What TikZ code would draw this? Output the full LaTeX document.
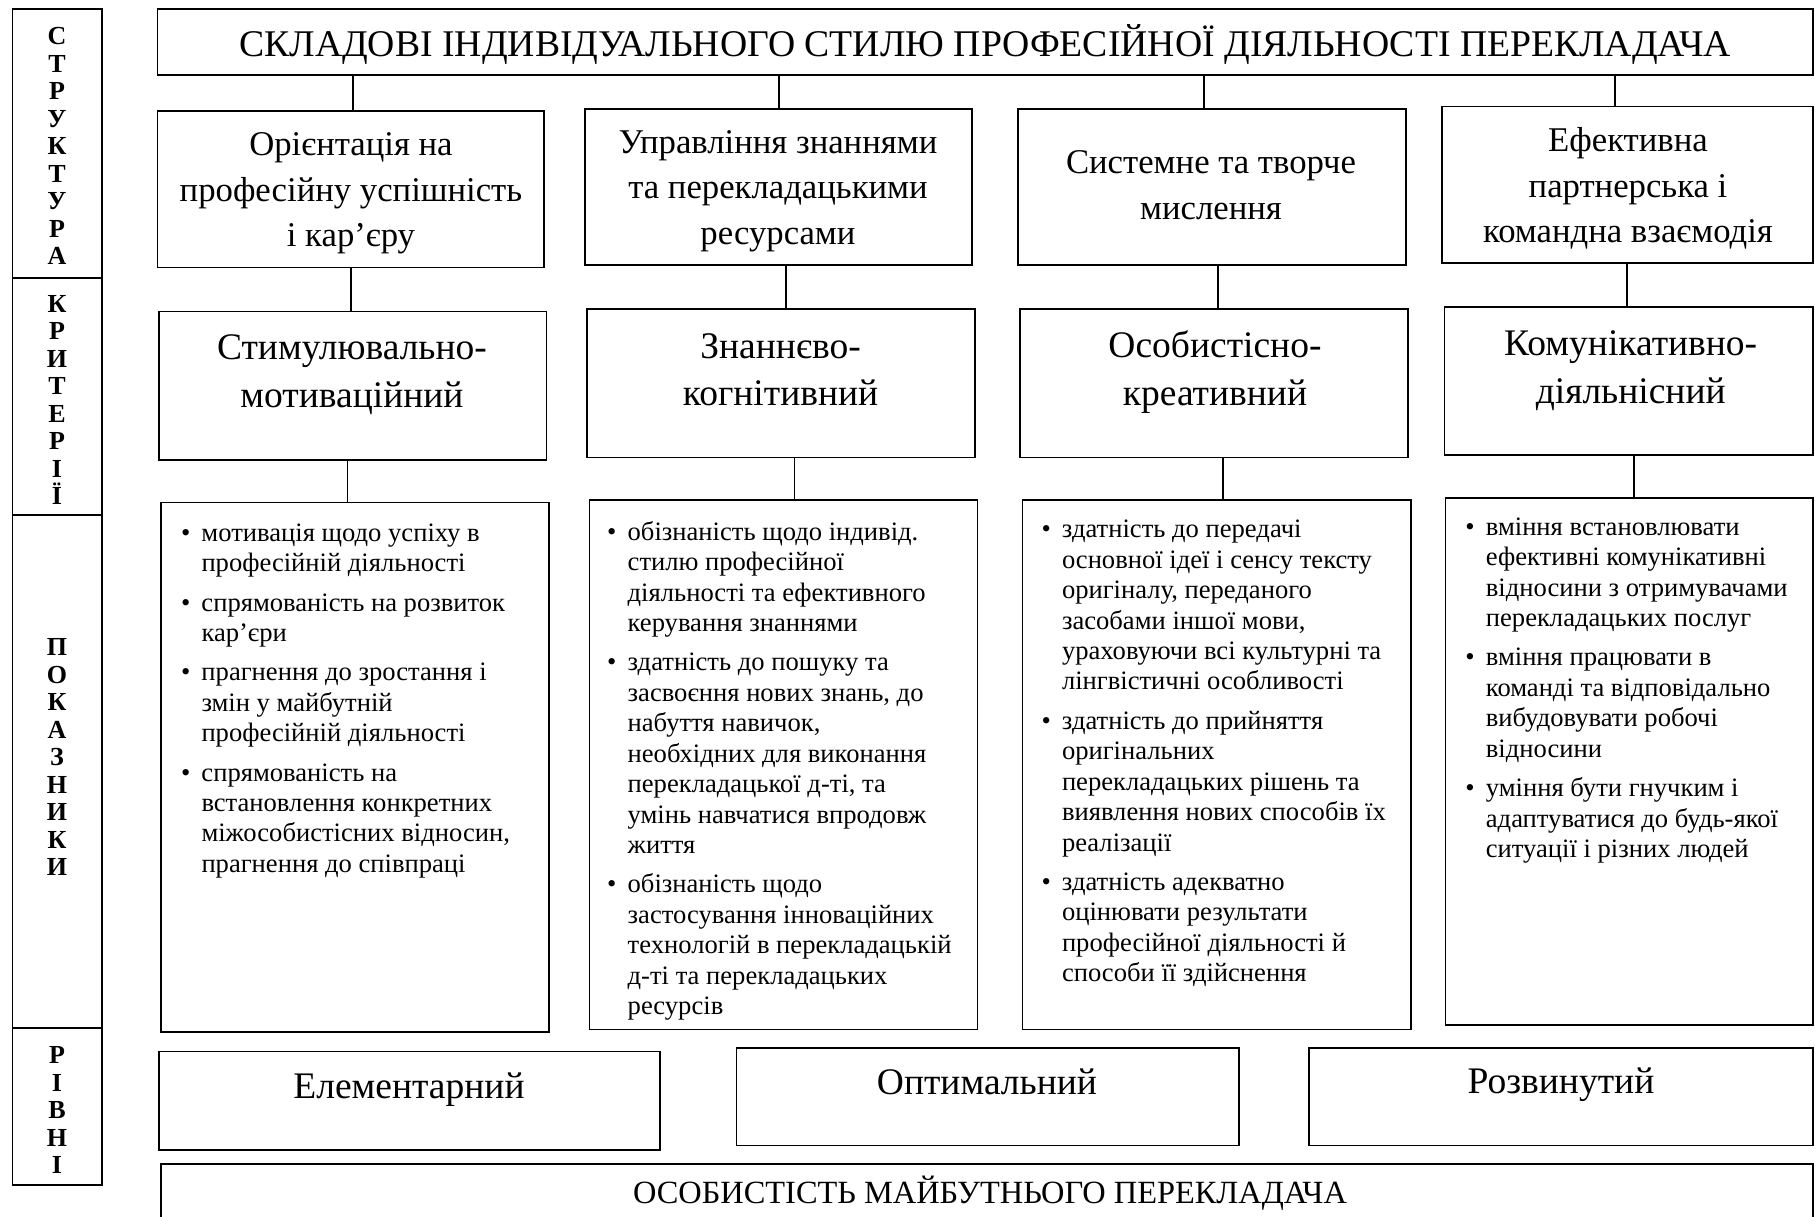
\documentclass[tikz,border=0pt]{standalone}
\usepackage{fontspec}
\setmainfont{Liberation Serif}
\usetikzlibrary{fit,calc}
\newcommand\bi{\makebox[20.5pt][l]{•}}
\newcommand\ci{\hspace*{20.5pt}}
\newcommand\fs{\rule{0pt}{20pt}}
\begin{document}
\begin{tikzpicture}[x=1pt,y=-1pt,
  box/.style={draw, line width=1.7pt, inner sep=0pt, outer sep=0pt},
  conn/.style={line width=1.2pt},
  ttl/.style={font=\fontsize{37.7}{40}\selectfont, inner sep=0pt},
  tbot/.style={font=\fontsize{32.4}{36}\selectfont, inner sep=0pt},
  t2/.style={align=center, font=\fontsize{34.7}{45.5}\selectfont, inner sep=0pt},
  t3/.style={align=center, font=\fontsize{37.5}{47.5}\selectfont, inner sep=0pt},
  bul/.style={align=left, anchor=north west, font=\fontsize{26.6}{30.45}\selectfont, inner sep=0pt},
  side/.style={align=center, font=\fontsize{26}{27.5}\selectfont\bfseries, inner sep=0pt},
]
\useasboundingbox (0,0) rectangle (1816,1217);
\clip (0,0) rectangle (1816,1217);
\fill[white] (0,0) rectangle (1816,1217);

% side column
\node[box, fit={(12.5,9.3) (102,278)}] (s1) {};
\node[box, fit={(12.5,278) (102,515)}] (s2) {};
\node[box, fit={(12.5,515) (102,1028)}] (s3) {};
\node[box, fit={(12.5,1028) (102,1185)}] (s4) {};
\node[side] (s1t) at (57,146) {С\\Т\\Р\\У\\К\\Т\\У\\Р\\А};
\node[side] (s2t) at (57,400) {К\\Р\\И\\Т\\Е\\Р\\І\\Ї};
\node[side] (s3t) at (57,757) {П\\О\\К\\А\\З\\Н\\И\\К\\И};
\node[side] (s4t) at (57,1110) {Р\\І\\В\\Н\\І};

% title
\node[box, fit={(157.5,9.3) (1813,75.3)}] (title) {};
\node[ttl] (titlet) at ($(title.center)+(0,2.5)$) {СКЛАДОВІ ІНДИВІДУАЛЬНОГО СТИЛЮ ПРОФЕСІЙНОЇ ДІЯЛЬНОСТІ ПЕРЕКЛАДАЧА};

% row 2
\node[box, fit={(157.5,111.2) (544.3,267.5)}] (b1) {};
\node[box, fit={(584.9,108.9) (971.7,265.2)}] (b2) {};
\node[box, fit={(1018,108.9) (1406,265.2)}] (b3) {};
\node[box, fit={(1442,106.5) (1813,262.9)}] (b4) {};
\node[t2] (b1t) at (351,193.5) {Орієнтація на\\професійну успішність\\і кар’єру};
\node[t2] (b2t) at (778,191) {Управління знаннями\\та перекладацькими\\ресурсами};
\node[t2] (b3t) at (1211,185) {Системне та творче\\мислення};
\node[t2] (b4t) at (1628,188.8) {Ефективна\\партнерська і\\командна взаємодія};

% row 3
\node[box, fit={(158.7,311.5) (546.6,459.8)}] (c1) {};
\node[box, fit={(587.2,309.2) (975.2,457.5)}] (c2) {};
\node[box, fit={(1020.3,309.2) (1408.3,457.5)}] (c3) {};
\node[box, fit={(1444.4,306.9) (1813,455.2)}] (c4) {};
\node[t3] (c1t) at (352,374.5) {Стимулювально-\\мотиваційний};
\node[t3] (c2t) at (780.6,370) {Знаннєво-\\когнітивний};
\node[t3] (c3t) at (1215,372) {Особистісно-\\креативний};
\node[t3] (c4t) at (1630.7,370.5) {Комунікативно-\\діяльнісний};

% row 4
\node[box, fit={(161,502.6) (549,1032)}] (d1) {};
\node[box, fit={(589.5,500.3) (977.5,1029.6)}] (d2) {};
\node[box, fit={(1022.6,500.3) (1410.7,1029.6)}] (d3) {};
\node[box, fit={(1445.5,498) (1813,1025)}] (d4) {};

\node[bul] (d1t) at (180.8,521) {\fs\bi мотивація щодо успіху в\\
\ci професійній діяльності\\[8.9pt]
\bi спрямованість на розвиток\\
\ci кар’єри\\[8.9pt]
\bi прагнення до зростання і\\
\ci змін у майбутній\\
\ci професійній діяльності\\[8.9pt]
\bi спрямованість на\\
\ci встановлення конкретних\\
\ci міжособистісних відносин,\\
\ci прагнення до співпраці};

\node[bul] (d2t) at (607,520) {\fs\bi обізнаність щодо індивід.\\
\ci стилю професійної\\
\ci діяльності та ефективного\\
\ci керування знаннями\\[8.9pt]
\bi здатність до пошуку та\\
\ci засвоєння нових знань, до\\
\ci набуття навичок,\\
\ci необхідних для виконання\\
\ci перекладацької д-ті, та\\
\ci умінь навчатися впродовж\\
\ci життя\\[8.9pt]
\bi обізнаність щодо\\
\ci застосування інноваційних\\
\ci технологій в перекладацькій\\
\ci д-ті та перекладацьких\\
\ci ресурсів};

\node[bul] (d3t) at (1041.3,517.5) {\fs\bi здатність до передачі\\
\ci основної ідеї і сенсу тексту\\
\ci оригіналу, переданого\\
\ci засобами іншої мови,\\
\ci ураховуючи всі культурні та\\
\ci лінгвістичні особливості\\[8.9pt]
\bi здатність до прийняття\\
\ci оригінальних\\
\ci перекладацьких рішень та\\
\ci виявлення нових способів їх\\
\ci реалізації\\[8.9pt]
\bi здатність адекватно\\
\ci оцінювати результати\\
\ci професійної діяльності й\\
\ci способи її здійснення};

\node[bul] (d4t) at (1465.2,515) {\fs\bi вміння встановлювати\\
\ci ефективні комунікативні\\
\ci відносини з отримувачами\\
\ci перекладацьких послуг\\[8.9pt]
\bi вміння працювати в\\
\ci команді та відповідально\\
\ci вибудовувати робочі\\
\ci відносини\\[8.9pt]
\bi уміння бути гнучким і\\
\ci адаптуватися до будь-якої\\
\ci ситуації і різних людей};

% row 5
\node[box, fit={(158.7,1051.6) (660,1150)}] (e1) {};
\node[box, fit={(736.6,1048) (1239,1145.5)}] (e2) {};
\node[box, fit={(1308.7,1048) (1813,1145.5)}] (e3) {};
\node[t3] (e1t) at (409,1089.5) {Елементарний};
\node[t3] (e2t) at (987,1082) {Оптимальний};
\node[t3] (e3t) at (1561,1085) {Розвинутий};

% bottom
\node[box, fit={(161,1164) (1813,1260)}] (bot) {};
\node[tbot] (bott) at (990,1193) {ОСОБИСТІСТЬ МАЙБУТНЬОГО ПЕРЕКЛАДАЧА};

% connectors
\coordinate (k1) at (353,0);
\coordinate (k2) at (779,0);
\coordinate (k3) at (1204,0);
\coordinate (k4) at (1615,0);
\draw[conn] (title.south -| k1) -- (b1.north -| k1);
\draw[conn] (title.south -| k2) -- (b2.north -| k2);
\draw[conn] (title.south -| k3) -- (b3.north -| k3);
\draw[conn] (title.south -| k4) -- (b4.north -| k4);
\coordinate (m1) at (351,0);
\coordinate (m2) at (786,0);
\coordinate (m3) at (1218,0);
\coordinate (m4) at (1627,0);
\draw[conn] (b1.south -| m1) -- (c1.north -| m1);
\draw[conn] (b2.south -| m2) -- (c2.north -| m2);
\draw[conn] (b3.south -| m3) -- (c3.north -| m3);
\draw[conn] (b4.south -| m4) -- (c4.north -| m4);
\coordinate (n1) at (347.5,0);
\coordinate (n2) at (794.5,0);
\coordinate (n3) at (1223,0);
\coordinate (n4) at (1634,0);
\draw[conn] (c1.south -| n1) -- (d1.north -| n1);
\draw[conn] (c2.south -| n2) -- (d2.north -| n2);
\draw[conn] (c3.south -| n3) -- (d3.north -| n3);
\draw[conn] (c4.south -| n4) -- (d4.north -| n4);
\end{tikzpicture}
\end{document}
